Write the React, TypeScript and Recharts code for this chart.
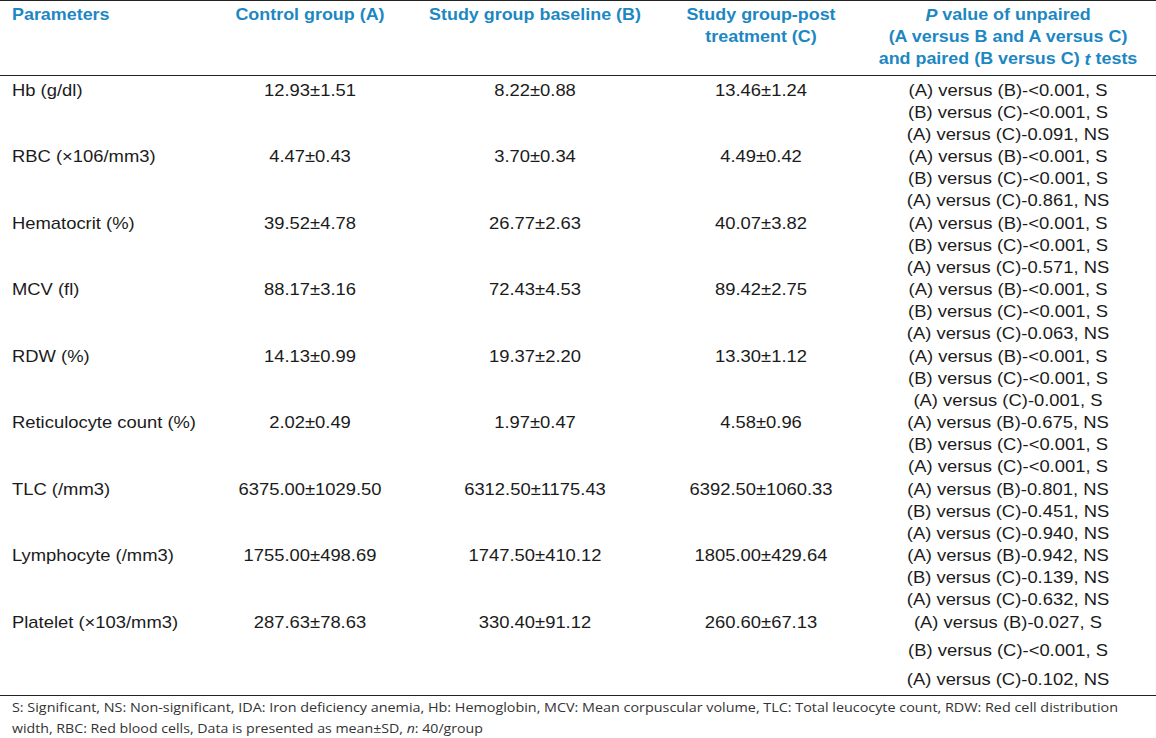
import React from 'react';
import { ScatterChart, Scatter, XAxis, YAxis, Customized } from 'recharts';

// Table content
const PARAMETERS = [
  'Hb (g/dl)',
  'RBC (×106/mm3)',
  'Hematocrit (%)',
  'MCV (fl)',
  'RDW (%)',
  'Reticulocyte count (%)',
  'TLC (/mm3)',
  'Lymphocyte (/mm3)',
  'Platelet (×103/mm3)',
];
const CONTROL_A = ['12.93±1.51', '4.47±0.43', '39.52±4.78', '88.17±3.16', '14.13±0.99', '2.02±0.49', '6375.00±1029.50', '1755.00±498.69', '287.63±78.63'];
const STUDY_B = ['8.22±0.88', '3.70±0.34', '26.77±2.63', '72.43±4.53', '19.37±2.20', '1.97±0.47', '6312.50±1175.43', '1747.50±410.12', '330.40±91.12'];
const STUDY_C = ['13.46±1.24', '4.49±0.42', '40.07±3.82', '89.42±2.75', '13.30±1.12', '4.58±0.96', '6392.50±1060.33', '1805.00±429.64', '260.60±67.13'];
const P_AB = ['<0.001, S', '<0.001, S', '<0.001, S', '<0.001, S', '<0.001, S', '0.675, NS', '0.801, NS', '0.942, NS', '0.027, S'];
const P_BC = ['<0.001, S', '<0.001, S', '<0.001, S', '<0.001, S', '<0.001, S', '<0.001, S', '0.451, NS', '0.139, NS', '<0.001, S'];
const P_AC = ['0.091, NS', '0.861, NS', '0.571, NS', '0.063, NS', '0.001, S', '<0.001, S', '0.940, NS', '0.632, NS', '0.102, NS'];

const FOOT_1 = 'S: Significant, NS: Non-significant, IDA: Iron deficiency anemia, Hb: Hemoglobin, MCV: Mean corpuscular volume, TLC: Total leucocyte count, RDW: Red cell distribution';
const FOOT_2 = 'width, RBC: Red blood cells, Data is presented as mean±SD, ';

// layout
const W = 1156;
const H = 738;
const COL_X = { param: 12, a: 310, b: 535, c: 761, p: 1008 };
const ROW_TOP = 90; // centre of first row, px
const ROW_STEP = 66.5;
const Y_MIN = -ROW_TOP / ROW_STEP;
const Y_MAX = Y_MIN + H / ROW_STEP;
const SX = 1.15; // the source scan is stretched sideways
const SX_HEAD = 1.12;
const BLUE = '#1d87c3';
const INK = '#1b1b1b';
const FONT = '"Liberation Sans", Arial, sans-serif';

function Txt({ x, y, anchor = 'middle', bold = false, color = INK, children }: any) {
  const sx = bold ? SX_HEAD : SX;
  return (
    <text
      transform={`translate(${x},${y}) scale(${sx},1)`}
      textAnchor={anchor}
      dominantBaseline="central"
      fontFamily={FONT}
      fontSize={16}
      fontWeight={bold ? 700 : 400}
      fill={color}
    >
      {children}
    </text>
  );
}

const cellData = (col: keyof typeof COL_X, values: string[]) =>
  values.map((v, i) => ({ x: COL_X[col], row: i, text: v }));

const pData = PARAMETERS.map((_, i) => ({
  x: COL_X.p,
  row: i,
  lines: [
    `(A) versus (B)-${P_AB[i]}`,
    `(B) versus (C)-${P_BC[i]}`,
    `(A) versus (C)-${P_AC[i]}`,
  ],
}));

const CellShape = (anchor: string) => (props: any) => {
  const { cx, cy, payload } = props;
  return <Txt x={cx} y={cy} anchor={anchor}>{payload.text}</Txt>;
};

const PShape = (props: any) => {
  const { cx, cy, payload } = props;
  const gap = payload.row === PARAMETERS.length - 1 ? 28.5 : 22;
  return (
    <g>
      {payload.lines.map((l: string, k: number) => (
        <Txt key={k} x={cx} y={cy + k * gap}>{l}</Txt>
      ))}
    </g>
  );
};

const Decor = () => (
  <g>
    <line x1={0} x2={W} y1={0.5} y2={0.5} stroke="#222" strokeWidth={1} />
    <line x1={0} x2={W} y1={75.5} y2={75.5} stroke="#222" strokeWidth={1} />
    <line x1={0} x2={W} y1={695.5} y2={695.5} stroke="#222" strokeWidth={1} />

    <Txt x={COL_X.param} y={15} anchor="start" bold color={BLUE}>Parameters</Txt>
    <Txt x={COL_X.a} y={15} bold color={BLUE}>Control group (A)</Txt>
    <Txt x={COL_X.b} y={15} bold color={BLUE}>Study group baseline (B)</Txt>
    <Txt x={COL_X.c} y={15} bold color={BLUE}>Study group-post</Txt>
    <Txt x={COL_X.c} y={37} bold color={BLUE}>treatment (C)</Txt>
    <Txt x={COL_X.p} y={15} bold color={BLUE}>
      <tspan fontStyle="italic">P</tspan> value of unpaired
    </Txt>
    <Txt x={COL_X.p} y={37} bold color={BLUE}>(A versus B and A versus C)</Txt>
    <Txt x={COL_X.p} y={59} bold color={BLUE}>
      and paired (B versus C) <tspan fontStyle="italic">t</tspan> tests
    </Txt>

    <text x={12} y={707} dominantBaseline="central" fontFamily='"Open Sans", "Noto Sans", sans-serif'
      fontSize={13} fill="#333" textLength={1106} lengthAdjust="spacingAndGlyphs">
      {FOOT_1}
    </text>
    <text x={12} y={728} dominantBaseline="central" fontFamily='"Open Sans", "Noto Sans", sans-serif'
      fontSize={13} fill="#333" textLength={471} lengthAdjust="spacingAndGlyphs">
      {FOOT_2}<tspan fontStyle="italic">n</tspan>: 40/group
    </text>
  </g>
);

export default function App() {
  return (
    <div style={{ position: 'absolute', left: 0, top: 0, width: W, height: H, background: '#fff' }}>
      <ScatterChart width={W} height={H} margin={{ top: 0, right: 0, bottom: 0, left: 0 }}>
        <XAxis type="number" dataKey="x" domain={[0, W]} hide />
        <YAxis type="number" dataKey="row" domain={[Y_MIN, Y_MAX]} reversed hide />
        <Customized component={Decor} />
        <Scatter data={cellData('param', PARAMETERS)} shape={CellShape('start')} isAnimationActive={false} />
        <Scatter data={cellData('a', CONTROL_A)} shape={CellShape('middle')} isAnimationActive={false} />
        <Scatter data={cellData('b', STUDY_B)} shape={CellShape('middle')} isAnimationActive={false} />
        <Scatter data={cellData('c', STUDY_C)} shape={CellShape('middle')} isAnimationActive={false} />
        <Scatter data={pData} shape={PShape} isAnimationActive={false} />
      </ScatterChart>
    </div>
  );
}
